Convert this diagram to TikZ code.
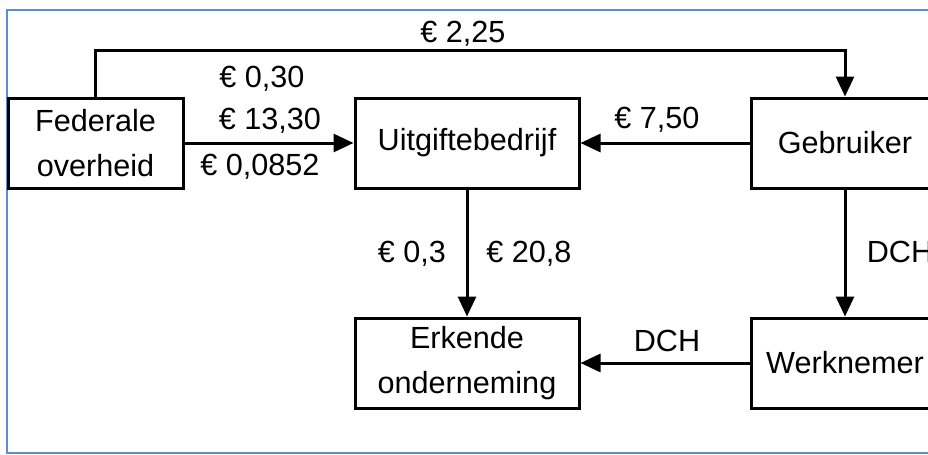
\documentclass[tikz,border=0pt]{standalone}
\usepackage{fontspec}
\setmainfont{Liberation Sans}
\usetikzlibrary{arrows.meta}
\definecolor{framblue}{RGB}{95,140,205}
\tikzset{
  box/.style={draw, line width=1.5pt, align=center, inner sep=0pt,
    minimum height=45pt},
  flow/.style={line width=1.5pt, -{Triangle[length=10pt,width=9pt]}},
  lbl/.style={anchor=base, inner sep=0pt}
}
\begin{document}
\begin{tikzpicture}[x=0.5pt, y=-0.5pt, font=\fontsize{15.3}{22.5}\selectfont]
\useasboundingbox (0,0) rectangle (928,455);
\clip (0,0) rectangle (928,455);
\draw[framblue, line width=0.7pt] (7,10) rectangle (960,453);
% boxes
\node[box, minimum width=87.5pt] (fed) at (95.5,143) {Federale\\overheid};
\node[box, minimum width=112pt] (uit) at (467,143) {Uitgiftebedrijf};
\node[box, minimum width=94pt] (geb) at (845,143) {Gebruiker};
\node[box, minimum width=112pt] (erk) at (467,363) {Erkende\\onderneming};
\node[box, minimum width=94pt] (wer) at (845,363) {Werknemer};
% flows
\draw[flow] (fed.north) -- ++(0,-46) -| (geb.north);
\draw[flow] (fed) -- (uit);
\draw[flow] (geb) -- (uit);
\draw[flow] (uit) -- (erk);
\draw[flow] (geb) -- (wer);
\draw[flow] (wer) -- (erk);
% amounts
\node[lbl] (l225) at (463,42) {€ 2,25};
\node[lbl] (l030) at (262,87) {€ 0,30};
\node[lbl] (l1330) at (270,129) {€ 13,30};
\node[lbl] (l0852) at (260,175) {€ 0,0852};
\node[lbl] (l750) at (657,128) {€ 7,50};
\node[lbl] (l03) at (412,262) {€ 0,3};
\node[lbl] (l208) at (529,262) {€ 20,8};
\node[lbl] (dchr) at (900,262) {DCH};
\node[lbl] (dchl) at (667,351) {DCH};
\end{tikzpicture}
\end{document}
